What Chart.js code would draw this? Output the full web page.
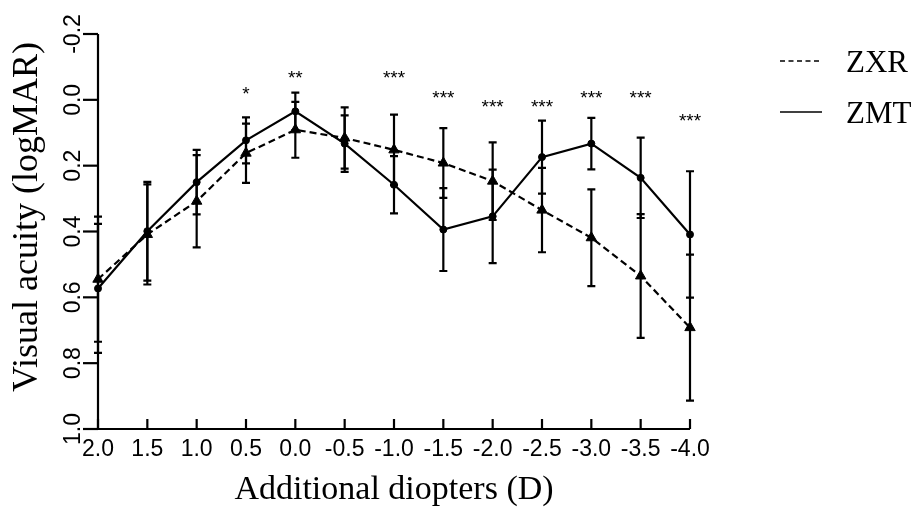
<!DOCTYPE html>
<html>
<head>
<meta charset="utf-8">
<script src="https://cdn.jsdelivr.net/npm/chart.js@4"></script>
<style>
  html, body { margin: 0; padding: 0; background: #fff; }
  canvas { display: block; }
</style>
</head>
<body>
<canvas id="acuityChart" width="912" height="516"></canvas>
<script>
// ---- data ----
const xLabels = ["2.0", "1.5", "1.0", "0.5", "0.0", "-0.5", "-1.0", "-1.5", "-2.0", "-2.5", "-3.0", "-3.5", "-4.0"];
const yTicks = [-0.2, 0.0, 0.2, 0.4, 0.6, 0.8, 1.0];

const zxrMean = [0.545, 0.409, 0.308, 0.162, 0.091, 0.116, 0.152, 0.192, 0.247, 0.335, 0.419, 0.535, 0.692];
const zxrSd = [0.19, 0.152, 0.14, 0.09, 0.085, 0.093, 0.107, 0.106, 0.118, 0.128, 0.147, 0.188, 0.222];
const zmtMean = [0.573, 0.399, 0.25, 0.123, 0.035, 0.133, 0.258, 0.394, 0.354, 0.174, 0.133, 0.237, 0.409];
const zmtSd = [0.196, 0.15, 0.098, 0.07, 0.057, 0.086, 0.087, 0.126, 0.142, 0.111, 0.078, 0.122, 0.192];

// significance marks, y given in logMAR units (centre of the asterisks)
const sigMarks = ["", "", "", "*", "**", "", "***", "***", "***", "***", "***", "***", "***"];
const sigY = [null, null, null, -0.032, -0.082, null, -0.082, -0.02, 0.006, 0.006, -0.02, -0.02, 0.049];

const seriesNames = ["ZXR", "ZMT"];

// ---- styles ----
const INK = "#000";
const SERIF = "'Liberation Serif', 'Times New Roman', serif";
const SANS = "'Liberation Sans', Arial, sans-serif";

// ---- error bars ----
const errorBars = {
  id: "errorBars",
  afterDatasetsDraw(chart) {
    const ctx = chart.ctx;
    const x = chart.scales.x;
    const y = chart.scales.y;
    const sets = [[zxrMean, zxrSd], [zmtMean, zmtSd]];
    ctx.save();
    ctx.strokeStyle = INK;
    ctx.lineWidth = 2.2;
    ctx.setLineDash([]);
    for (const [mean, sd] of sets) {
      mean.forEach((m, i) => {
        const px = x.getPixelForValue(i);
        const top = y.getPixelForValue(m - sd[i]);
        const bot = y.getPixelForValue(m + sd[i]);
        ctx.beginPath();
        ctx.moveTo(px, top);
        ctx.lineTo(px, bot);
        ctx.moveTo(px - 4, top);
        ctx.lineTo(px + 4, top);
        ctx.moveTo(px - 4, bot);
        ctx.lineTo(px + 4, bot);
        ctx.stroke();
      });
    }
    ctx.restore();
  },
};

// ---- axes, titles, stars, legend ----
const decorations = {
  id: "decorations",
  afterDraw(chart) {
    const ctx = chart.ctx;
    const x = chart.scales.x;
    const y = chart.scales.y;
    const area = chart.chartArea;
    ctx.save();
    ctx.strokeStyle = INK;
    ctx.fillStyle = INK;
    ctx.lineWidth = 2.2;
    ctx.setLineDash([]);

    // y axis
    ctx.beginPath();
    ctx.moveTo(area.left, y.getPixelForValue(yTicks[0]));
    ctx.lineTo(area.left, area.bottom);
    ctx.stroke();
    ctx.font = "23px " + SANS;
    ctx.textAlign = "center";
    ctx.textBaseline = "alphabetic";
    for (const t of yTicks) {
      const py = y.getPixelForValue(t);
      ctx.beginPath();
      ctx.moveTo(area.left - 15, py);
      ctx.lineTo(area.left, py);
      ctx.stroke();
      ctx.save();
      ctx.translate(80, py);
      ctx.rotate(-Math.PI / 2);
      ctx.fillText(t.toFixed(1), 0, 0);
      ctx.restore();
    }

    // x axis (ticks point inward)
    ctx.beginPath();
    ctx.moveTo(area.left, area.bottom);
    ctx.lineTo(area.right, area.bottom);
    ctx.stroke();
    ctx.textBaseline = "top";
    xLabels.forEach((lab, i) => {
      const px = x.getPixelForValue(i);
      ctx.beginPath();
      ctx.moveTo(px, area.bottom);
      ctx.lineTo(px, area.bottom - 10);
      ctx.stroke();
      ctx.fillText(lab, px, area.bottom + 9);
    });

    // titles
    ctx.font = "34px " + SERIF;
    ctx.textBaseline = "alphabetic";
    ctx.fillText("Additional diopters (D)", (area.left + area.right) / 2, 499);
    ctx.save();
    ctx.translate(37, 217);
    ctx.rotate(-Math.PI / 2);
    ctx.font = "36px " + SERIF;
    ctx.fillText("Visual acuity (logMAR)", 0, 0);
    ctx.restore();

    // significance stars
    ctx.font = "19px " + SANS;
    sigMarks.forEach((s, i) => {
      if (!s) return;
      ctx.fillText(s, x.getPixelForValue(i), y.getPixelForValue(sigY[i]) + 11);
    });

    // legend
    ctx.font = "31px " + SERIF;
    ctx.textAlign = "left";
    const rows = [{ y: 61, dash: [5, 3.5] }, { y: 112, dash: [] }];
    rows.forEach((r, i) => {
      ctx.lineWidth = 1.6;
      ctx.setLineDash(r.dash);
      ctx.beginPath();
      ctx.moveTo(780, r.y);
      ctx.lineTo(822, r.y);
      ctx.stroke();
      ctx.setLineDash([]);
      ctx.fillText(seriesNames[i], 846, r.y + 11);
    });
    ctx.restore();
  },
};

// ---- chart ----
function renderChart() {
  const ctx = document.getElementById("acuityChart").getContext("2d");
  new Chart(ctx, {
    type: "line",
    data: {
      labels: xLabels,
      datasets: [
        {
          label: seriesNames[0],
          data: zxrMean,
          borderColor: INK,
          backgroundColor: INK,
          borderWidth: 2.2,
          borderDash: [7, 4],
          pointStyle: "triangle",
          pointRadius: 6,
          pointBorderWidth: 1,
          tension: 0,
        },
        {
          label: seriesNames[1],
          data: zmtMean,
          borderColor: INK,
          backgroundColor: INK,
          borderWidth: 2.2,
          pointStyle: "circle",
          pointRadius: 3.5,
          pointBorderWidth: 1,
          tension: 0,
        },
      ],
    },
    options: {
      responsive: false,
      animation: false,
      devicePixelRatio: 1,
      layout: { padding: { left: 98, right: 222, top: 34, bottom: 87 } },
      plugins: { legend: { display: false }, tooltip: { enabled: false } },
      scales: {
        x: { type: "category", display: false, offset: false },
        y: { type: "linear", display: false, min: -0.2, max: 1.0, reverse: true },
      },
    },
    plugins: [errorBars, decorations],
  });
}

renderChart();
</script>
</body>
</html>
